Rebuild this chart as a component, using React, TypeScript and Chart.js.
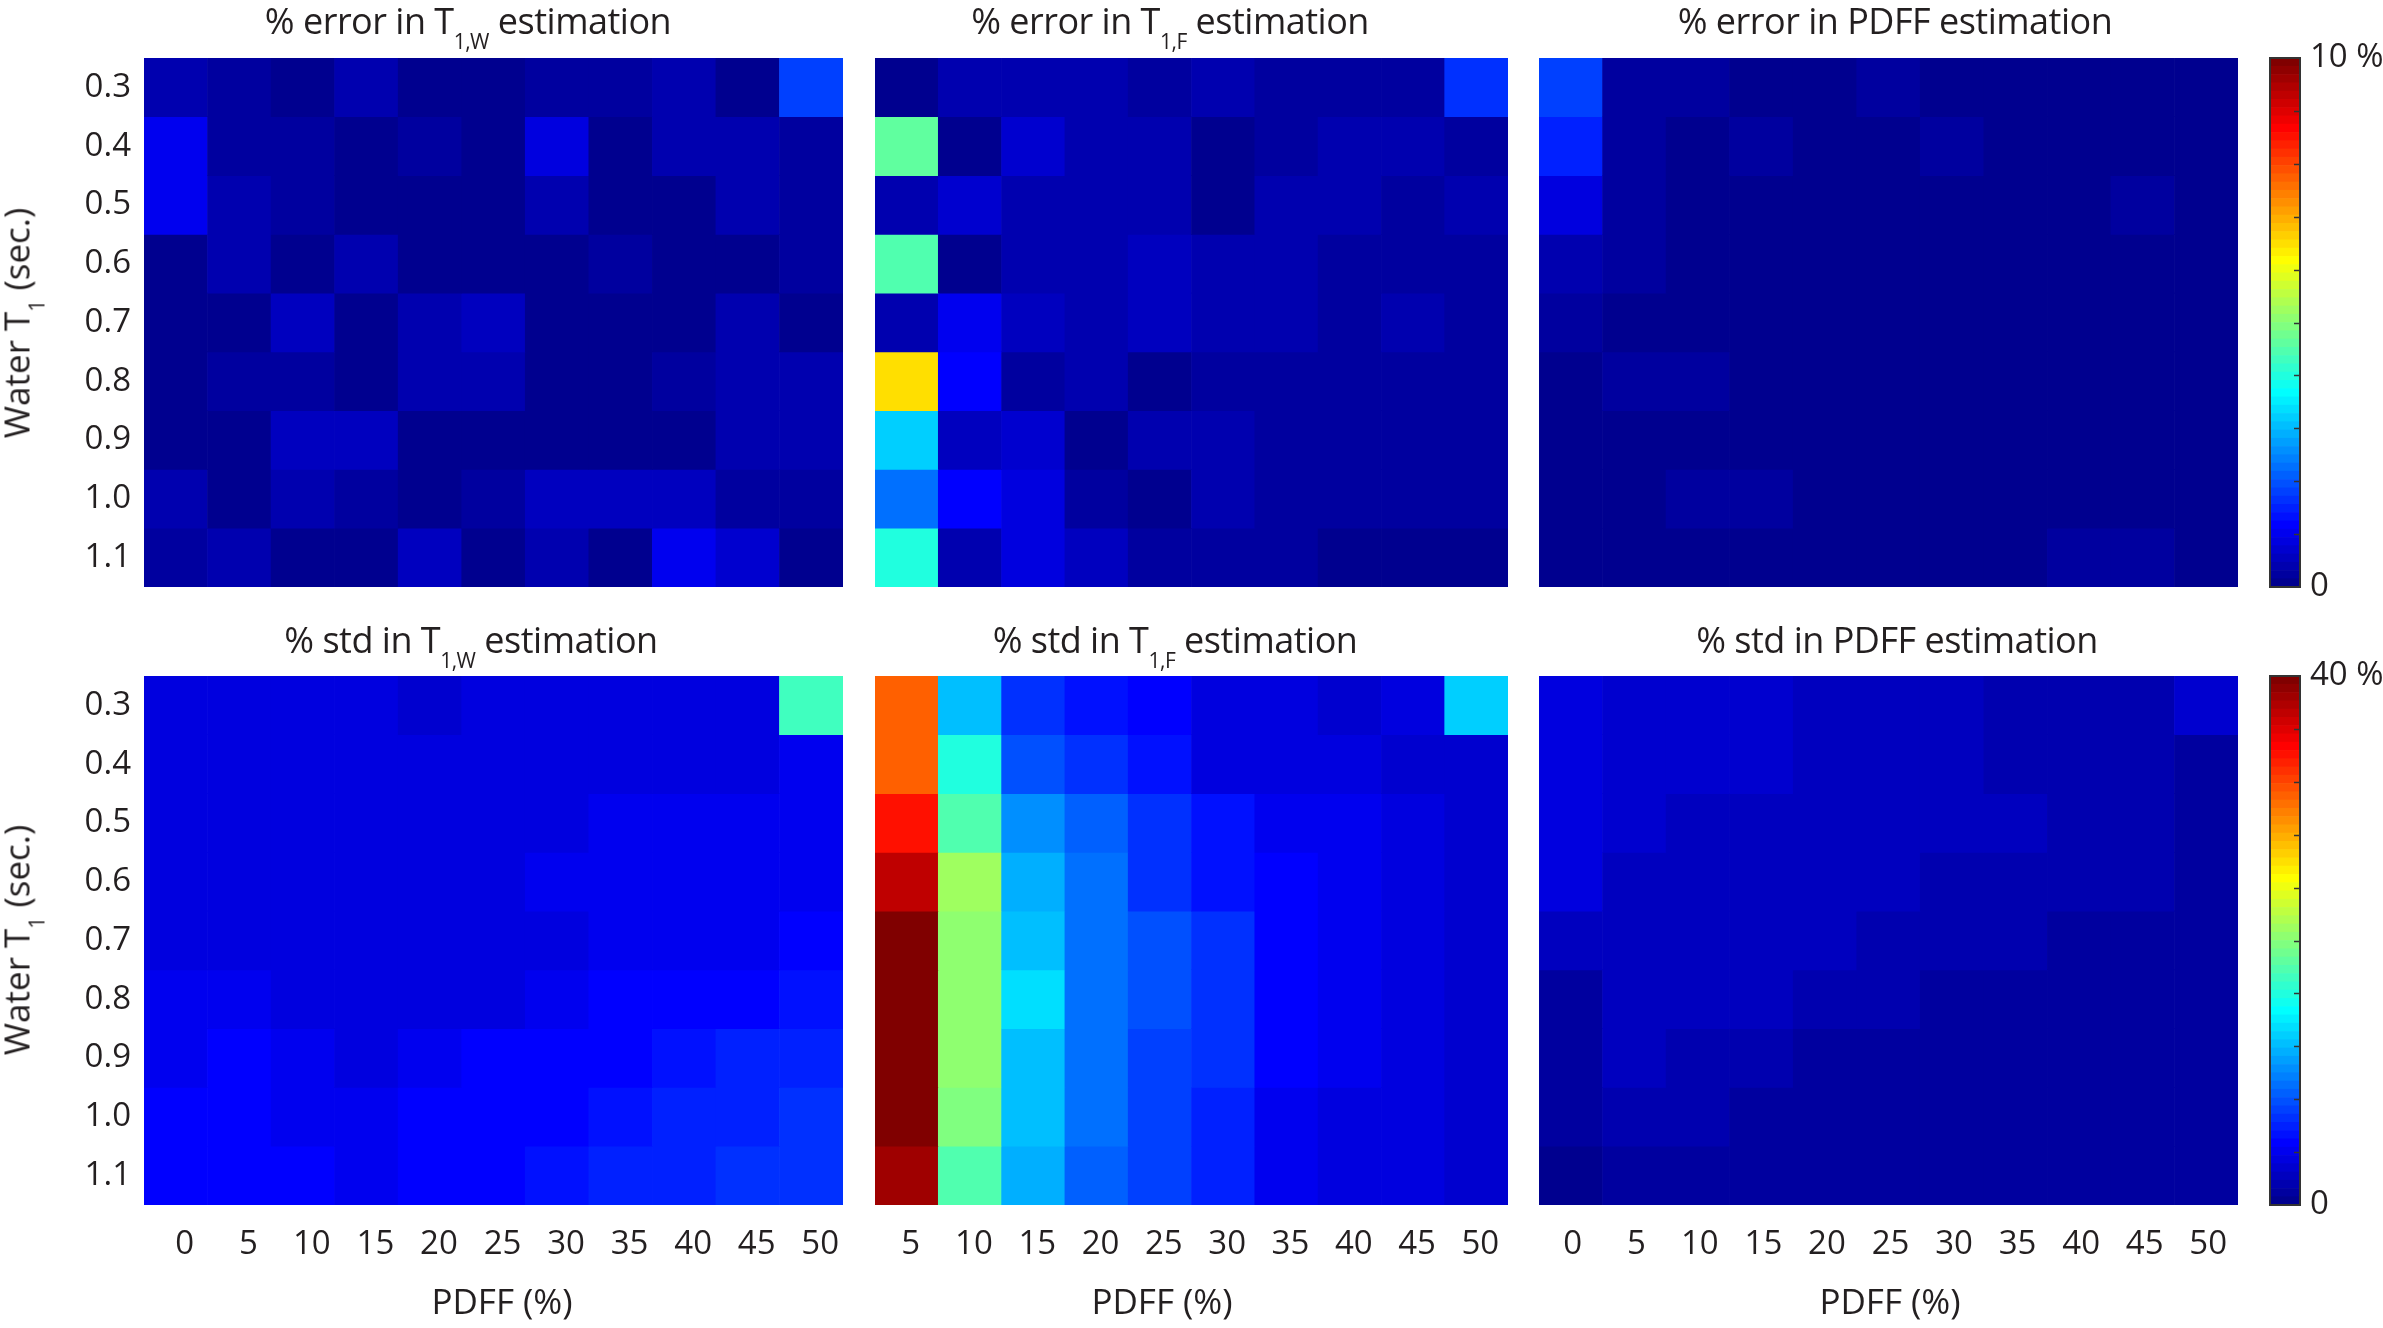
import React, { useEffect, useRef } from 'react';
import { Chart, registerables } from 'chart.js';

Chart.register(...registerables);

// ---------- data ----------
const waterT1 = ['0.3', '0.4', '0.5', '0.6', '0.7', '0.8', '0.9', '1.0', '1.1'];
const pdffAll = ['0', '5', '10', '15', '20', '25', '30', '35', '40', '45', '50'];
const pdffFat = ['5', '10', '15', '20', '25', '30', '35', '40', '45', '50'];
const errorMax = 10;
const stdMax = 40;

// % error in T1,W (rows: water T1, cols: PDFF 0..50)
const errT1W = [
  [0.45, 0.2, 0.15, 0.45, 0.1, 0.1, 0.3, 0.3, 0.35, 0.05, 1.8],
  [0.95, 0.25, 0.3, 0.1, 0.3, 0.1, 0.85, 0.1, 0.45, 0.4, 0.2],
  [0.95, 0.35, 0.25, 0.1, 0.1, 0.1, 0.4, 0.1, 0.1, 0.4, 0.25],
  [0.05, 0.45, 0.05, 0.35, 0.1, 0.1, 0.1, 0.3, 0.1, 0.1, 0.25],
  [0.05, 0.05, 0.5, 0.1, 0.35, 0.55, 0.1, 0.1, 0.1, 0.4, 0.05],
  [0.1, 0.25, 0.25, 0.1, 0.35, 0.35, 0.1, 0.15, 0.3, 0.4, 0.4],
  [0.05, 0.05, 0.5, 0.5, 0.1, 0.05, 0.05, 0.05, 0.05, 0.4, 0.4],
  [0.4, 0.15, 0.45, 0.3, 0.1, 0.3, 0.5, 0.5, 0.55, 0.2, 0.2],
  [0.3, 0.45, 0.1, 0.1, 0.5, 0.15, 0.35, 0.1, 0.95, 0.75, 0.05],
];

// % error in T1,F (cols: PDFF 5..50)
const errT1F = [
  [0.02, 0.45, 0.4, 0.35, 0.2, 0.35, 0.2, 0.3, 0.3, 1.6],
  [4.6, 0.15, 0.65, 0.35, 0.35, 0.15, 0.2, 0.35, 0.35, 0.2],
  [0.45, 0.75, 0.35, 0.35, 0.35, 0.15, 0.35, 0.45, 0.2, 0.35],
  [4.45, 0.1, 0.35, 0.35, 0.5, 0.35, 0.35, 0.2, 0.2, 0.2],
  [0.45, 1.0, 0.5, 0.4, 0.6, 0.35, 0.35, 0.2, 0.35, 0.2],
  [6.5, 1.15, 0.2, 0.45, 0.1, 0.3, 0.2, 0.2, 0.2, 0.3],
  [3.2, 0.55, 0.7, 0.1, 0.35, 0.35, 0.2, 0.2, 0.2, 0.2],
  [2.25, 1.15, 0.8, 0.2, 0.1, 0.45, 0.2, 0.2, 0.2, 0.3],
  [4.0, 0.35, 0.8, 0.5, 0.2, 0.2, 0.25, 0.1, 0.1, 0.1],
];

// % error in PDFF
const errPDFF = [
  [1.8, 0.2, 0.2, 0.1, 0.1, 0.3, 0.15, 0.15, 0.15, 0.15, 0.15],
  [1.5, 0.3, 0.15, 0.3, 0.15, 0.15, 0.3, 0.15, 0.15, 0.15, 0.15],
  [0.85, 0.25, 0.15, 0.15, 0.15, 0.15, 0.15, 0.15, 0.15, 0.3, 0.15],
  [0.35, 0.3, 0.15, 0.15, 0.15, 0.15, 0.15, 0.15, 0.15, 0.15, 0.15],
  [0.25, 0.15, 0.15, 0.15, 0.15, 0.15, 0.15, 0.15, 0.15, 0.15, 0.15],
  [0.15, 0.3, 0.3, 0.15, 0.15, 0.15, 0.15, 0.15, 0.15, 0.15, 0.15],
  [0.15, 0.15, 0.15, 0.15, 0.15, 0.15, 0.15, 0.15, 0.15, 0.15, 0.15],
  [0.15, 0.15, 0.3, 0.3, 0.15, 0.15, 0.15, 0.15, 0.15, 0.15, 0.15],
  [0.15, 0.15, 0.15, 0.15, 0.15, 0.15, 0.15, 0.15, 0.3, 0.3, 0.15],
];

// % std in T1,W
const stdT1W = [
  [3.3, 3.3, 3.3, 3.3, 2.8, 3.3, 3.3, 3.3, 3.3, 3.3, 17.2],
  [3.3, 3.3, 3.3, 3.3, 3.3, 3.3, 3.3, 3.3, 3.3, 3.3, 4.0],
  [3.5, 3.3, 3.3, 3.3, 3.3, 3.3, 3.3, 3.8, 3.8, 4.0, 4.0],
  [3.6, 3.5, 3.3, 3.3, 3.3, 3.2, 3.8, 3.8, 3.9, 4.1, 4.2],
  [3.6, 3.4, 3.4, 3.2, 3.3, 3.4, 3.6, 3.9, 3.9, 4.2, 4.5],
  [3.8, 3.8, 3.4, 3.4, 3.4, 3.3, 3.8, 4.5, 4.5, 4.5, 5.2],
  [4.0, 4.6, 4.0, 3.5, 4.0, 4.6, 4.6, 4.6, 5.2, 5.8, 5.8],
  [4.7, 4.7, 4.0, 4.0, 4.7, 4.7, 4.7, 5.3, 5.9, 5.9, 6.6],
  [4.7, 4.7, 4.7, 4.2, 4.6, 4.6, 5.3, 5.9, 5.9, 6.6, 6.6],
];

// % std in T1,F (cols: PDFF 5..50)
const stdT1F = [
  [31.0, 12.2, 6.6, 5.0, 4.5, 3.3, 3.3, 2.8, 3.2, 13.0],
  [31.0, 16.0, 7.8, 6.3, 5.0, 3.2, 3.2, 3.2, 3.1, 3.0],
  [34.0, 17.8, 10.3, 8.3, 6.5, 5.3, 4.0, 4.0, 3.5, 2.8],
  [37.2, 20.9, 11.7, 8.8, 6.5, 5.3, 4.7, 4.0, 3.4, 2.8],
  [39.8, 20.3, 12.3, 9.0, 7.5, 6.5, 4.7, 4.0, 3.4, 2.8],
  [39.8, 20.3, 13.2, 9.0, 7.5, 6.5, 4.7, 4.0, 3.4, 2.8],
  [39.8, 20.3, 11.9, 9.0, 7.2, 6.3, 4.7, 4.0, 3.4, 2.8],
  [39.8, 19.7, 11.9, 8.8, 6.9, 5.9, 4.3, 3.6, 3.4, 2.8],
  [38.3, 17.8, 11.3, 8.4, 6.9, 5.9, 4.0, 3.4, 3.4, 2.8],
];

// % std in PDFF
const stdPDFF = [
  [3.4, 2.8, 2.8, 2.6, 2.2, 2.2, 2.2, 1.6, 1.6, 1.6, 2.6],
  [3.4, 2.8, 2.8, 2.6, 2.2, 2.2, 2.2, 1.6, 1.6, 1.6, 1.0],
  [3.4, 2.8, 2.2, 2.2, 2.2, 2.2, 2.2, 2.2, 1.6, 1.6, 1.0],
  [3.4, 2.2, 2.2, 2.2, 2.2, 2.2, 1.6, 1.6, 1.6, 1.6, 1.0],
  [2.2, 2.2, 2.2, 2.2, 2.2, 1.6, 1.6, 1.6, 1.0, 1.0, 1.0],
  [1.0, 2.2, 2.2, 2.2, 1.6, 1.6, 1.0, 1.0, 1.0, 1.0, 1.0],
  [1.0, 2.2, 1.6, 1.6, 1.0, 1.0, 1.0, 1.0, 1.0, 1.0, 1.0],
  [1.0, 1.6, 1.6, 1.0, 1.0, 1.0, 1.0, 1.0, 1.0, 1.0, 1.0],
  [0.5, 1.0, 1.0, 1.0, 1.0, 1.0, 1.0, 1.0, 1.0, 1.0, 1.0],
];

// ---------- colormap (MATLAB jet, 64 levels) ----------
function makeJet(m: number): number[][] {
  const n = Math.ceil(m / 4);
  const u: number[] = [];
  for (let i = 1; i <= n; i++) u.push(i / n);
  for (let i = 1; i <= n - 1; i++) u.push(1);
  for (let i = n; i >= 1; i--) u.push(i / n);
  const off = Math.ceil(n / 2) - (m % 4 === 1 ? 1 : 0);
  const J = Array.from({ length: m }, () => [0, 0, 0]);
  for (let k = 0; k < u.length; k++) {
    const g = off + k + 1;
    const r = g + n;
    const b = g - n;
    if (g >= 1 && g <= m) J[g - 1][1] = u[k];
    if (r >= 1 && r <= m) J[r - 1][0] = u[k];
    if (b >= 1 && b <= m) J[b - 1][2] = u[k];
  }
  return J;
}
const JET = makeJet(64);
const rgb = (c: number[]) =>
  `rgb(${Math.round(c[0] * 255)},${Math.round(c[1] * 255)},${Math.round(c[2] * 255)})`;
function colorFor(v: number, max: number) {
  let i = Math.floor((v / max) * 64);
  if (i < 0) i = 0;
  if (i > 63) i = 63;
  return rgb(JET[i]);
}

const FONT = '"Open Sans", "DejaVu Sans", sans-serif';
const TEXT = '#231f20';
const TICK_SIZE = 33;

// ---------- heatmap ----------
type HeatProps = {
  x0: number; y0: number; x1: number; y1: number;
  values: number[][]; xLabels: string[]; max: number;
  showY: boolean; showX: boolean; labelOffset: number;
};

function Heatmap({ x0, y0, x1, y1, values, xLabels, max, showY, showX, labelOffset }: HeatProps) {
  const ref = useRef<HTMLCanvasElement>(null);
  const yW = showY ? 120 : 0;
  const PL = showY ? 0 : 10;
  const PR = 10;
  const PT = 40;
  const xH = showX ? 74 : 0;
  const PB = showX ? 6 : 40;
  const left = x0 - yW - PL;
  const top = y0 - PT;
  const w = x1 + PR - left;
  const h = y1 + xH + PB - top;

  useEffect(() => {
    const cv = ref.current;
    if (!cv) return;
    const chart = new Chart(cv, {
      type: 'bar',
      data: {
        labels: xLabels,
        datasets: values.map((row, r) => ({
          data: row.map(() => [r, r + 1] as [number, number]),
          backgroundColor: row.map((v) => colorFor(v, max)),
          borderWidth: 0,
          barPercentage: 1,
          categoryPercentage: 1,
          grouped: false,
        })),
      },
      options: {
        animation: false,
        responsive: false,
        maintainAspectRatio: false,
        events: [],
        layout: { padding: { top: PT, bottom: PB, left: PL, right: PR } },
        plugins: { legend: { display: false }, tooltip: { enabled: false }, title: { display: false } },
        scales: {
          x: {
            type: 'category',
            offset: true,
            display: showX,
            grid: { display: false, drawTicks: false },
            border: { display: false },
            ticks: {
              font: { family: FONT, size: TICK_SIZE },
              color: TEXT,
              padding: 20,
              labelOffset,
              maxRotation: 0,
              autoSkip: false,
            },
            afterFit: (s: any) => { s.height = xH; },
          },
          y: {
            type: 'linear',
            min: 0,
            max: waterT1.length,
            reverse: true,
            display: showY,
            grid: { display: false, drawTicks: false },
            border: { display: false },
            afterBuildTicks: (s: any) => {
              s.ticks = waterT1.map((_, i) => ({ value: i + 0.5 }));
            },
            ticks: {
              font: { family: FONT, size: TICK_SIZE },
              color: TEXT,
              padding: 13,
              callback: (v: any) => waterT1[Math.floor(Number(v))] ?? '',
            },
            afterFit: (s: any) => { s.width = yW; },
          },
        },
      } as any,
    });
    return () => chart.destroy();
  }, []);

  return (
    <canvas
      ref={ref}
      width={w}
      height={h}
      style={{ position: 'absolute', left, top, width: w, height: h }}
    />
  );
}

// ---------- colorbar ----------
type BarProps = { x0: number; y0: number; x1: number; y1: number; max: number };

function Colorbar({ x0, y0, x1, y1, max }: BarProps) {
  const ref = useRef<HTMLCanvasElement>(null);
  const PL = 4, PR = 0, PT = 40, PB = 40, yW = 86;
  const left = x0 - PL;
  const top = y0 - PT;
  const w = x1 - x0 + PL + PR + yW;
  const h = y1 - y0 + PT + PB;

  useEffect(() => {
    const cv = ref.current;
    if (!cv) return;
    const frame = {
      id: 'cbFrame',
      afterDraw(c: any) {
        const { ctx, chartArea } = c;
        const ys = c.scales.y;
        ctx.save();
        ctx.strokeStyle = '#333333';
        ctx.lineWidth = 1.5;
        for (let k = 1; k < 10; k++) {
          const y = Math.round(ys.getPixelForValue((k * max) / 10)) + 0.5;
          ctx.beginPath();
          ctx.moveTo(chartArea.right - 6, y);
          ctx.lineTo(chartArea.right, y);
          ctx.stroke();
        }
        ctx.lineWidth = 2;
        ctx.strokeRect(chartArea.left, chartArea.top, chartArea.right - chartArea.left, chartArea.bottom - chartArea.top);
        ctx.restore();
      },
    };
    const chart = new Chart(cv, {
      type: 'bar',
      data: {
        labels: [''],
        datasets: JET.map((c, i) => ({
          data: [[(i * max) / 64, ((i + 1) * max) / 64] as [number, number]],
          backgroundColor: rgb(c),
          borderWidth: 0,
          barPercentage: 1,
          categoryPercentage: 1,
          grouped: false,
        })),
      },
      options: {
        animation: false,
        responsive: false,
        maintainAspectRatio: false,
        events: [],
        layout: { padding: { top: PT, bottom: PB, left: PL, right: PR } },
        plugins: { legend: { display: false }, tooltip: { enabled: false } },
        scales: {
          x: { type: 'category', offset: true, display: false },
          y: {
            type: 'linear',
            position: 'right',
            min: 0,
            max,
            grid: { display: false, drawTicks: false },
            border: { display: false },
            afterBuildTicks: (s: any) => {
              s.ticks = Array.from({ length: 11 }, (_, k) => ({ value: (k * max) / 10 }));
            },
            ticks: {
              font: { family: FONT, size: TICK_SIZE },
              color: TEXT,
              padding: 10,
              callback: (v: any) => {
                const n = Number(v);
                if (n === 0) return '0';
                if (Math.abs(n - max) < 1e-9) return `${max} %`;
                return '';
              },
            },
            afterFit: (s: any) => { s.width = yW; },
          },
        },
      } as any,
      plugins: [frame],
    });
    return () => chart.destroy();
  }, []);

  return (
    <canvas
      ref={ref}
      width={w}
      height={h}
      style={{ position: 'absolute', left, top, width: w, height: h }}
    />
  );
}

// ---------- text helpers ----------
const subStyle: React.CSSProperties = { fontSize: 21, verticalAlign: -15, lineHeight: 1 };

function Title({ cx, top, children }: { cx: number; top: number; children: React.ReactNode }) {
  return (
    <div
      style={{
        position: 'absolute', left: cx, top, transform: 'translateX(-50%)',
        whiteSpace: 'nowrap', fontFamily: FONT, fontSize: 36, lineHeight: 1, color: TEXT,
        letterSpacing: -0.5,
      }}
    >
      {children}
    </div>
  );
}

function XTitle({ cx, top }: { cx: number; top: number }) {
  return (
    <div
      style={{
        position: 'absolute', left: cx, top, transform: 'translateX(-50%)',
        whiteSpace: 'nowrap', fontFamily: FONT, fontSize: 35, lineHeight: 1, color: TEXT,
      }}
    >
      PDFF (%)
    </div>
  );
}

function YTitle({ cx, cy }: { cx: number; cy: number }) {
  return (
    <div
      style={{
        position: 'absolute', left: cx, top: cy, transform: 'translate(-50%, -50%) rotate(-90deg)',
        whiteSpace: 'nowrap', fontFamily: FONT, fontSize: 35, lineHeight: 1, color: TEXT,
      }}
    >
      Water T<span style={subStyle}>1</span> (sec.)
    </div>
  );
}

// ---------- layout ----------
const R1 = { y0: 58, y1: 587 };
const R2 = { y0: 676, y1: 1205 };
const C1 = { x0: 144, x1: 843 };
const C2 = { x0: 875, x1: 1508 };
const C3 = { x0: 1539, x1: 2238 };
const CB = { x0: 2270, x1: 2300 };

export default function App() {
  return (
    <div
      style={{
        position: 'fixed', left: 0, top: 0, width: 2383, height: 1328,
        background: '#ffffff', overflow: 'hidden',
      }}
    >
      <Heatmap {...C1} {...R1} values={errT1W} xLabels={pdffAll} max={errorMax} showY showX={false} labelOffset={0} />
      <Heatmap {...C2} {...R1} values={errT1F} xLabels={pdffFat} max={errorMax} showY={false} showX={false} labelOffset={0} />
      <Heatmap {...C3} {...R1} values={errPDFF} xLabels={pdffAll} max={errorMax} showY={false} showX={false} labelOffset={0} />
      <Colorbar {...CB} {...R1} max={errorMax} />

      <Heatmap {...C1} {...R2} values={stdT1W} xLabels={pdffAll} max={stdMax} showY showX labelOffset={9} />
      <Heatmap {...C2} {...R2} values={stdT1F} xLabels={pdffFat} max={stdMax} showY={false} showX labelOffset={4} />
      <Heatmap {...C3} {...R2} values={stdPDFF} xLabels={pdffAll} max={stdMax} showY={false} showX labelOffset={2} />
      <Colorbar {...CB} {...R2} max={stdMax} />

      <Title cx={468} top={3}>% error in T<span style={subStyle}>1,W</span> estimation</Title>
      <Title cx={1170} top={3}>% error in T<span style={subStyle}>1,F</span> estimation</Title>
      <Title cx={1895} top={3}>% error in PDFF estimation</Title>
      <Title cx={471} top={622}>% std in T<span style={subStyle}>1,W</span> estimation</Title>
      <Title cx={1175} top={622}>% std in T<span style={subStyle}>1,F</span> estimation</Title>
      <Title cx={1897} top={622}>% std in PDFF estimation</Title>

      <YTitle cx={23} cy={323} />
      <YTitle cx={23} cy={940} />

      <XTitle cx={502} top={1283} />
      <XTitle cx={1162} top={1283} />
      <XTitle cx={1890} top={1283} />
    </div>
  );
}
